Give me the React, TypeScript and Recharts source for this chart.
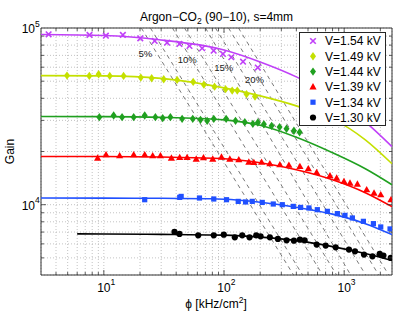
import React from 'react';
import {
  ComposedChart, Line, Scatter, XAxis, YAxis, CartesianGrid,
  ReferenceArea, ReferenceDot, Legend, Customized,
} from 'recharts';

const FONT = '"Liberation Sans", Arial, Helvetica, sans-serif';
const W = 409;
const H = 314;
const PLOT_LEFT = 41;
const PLOT_RIGHT = 392;
const PLOT_TOP = 28;
const PLOT_BOTTOM = 275;

// ---- axis ticks ----
const xTicks = [3, 4, 5, 6, 7, 8, 9, 10, 20, 30, 40, 50, 60, 70, 80, 90, 100, 200, 300, 400, 500, 600, 700, 800, 900, 1000, 2000];
const yTicks = [4000, 5000, 6000, 7000, 8000, 9000, 10000, 20000, 30000, 40000, 50000, 60000, 70000, 80000, 90000, 100000];
const xDomain = [3, 2500];
const yDomain = [4000, 100000];

// ---- measured points ----
const phi154 = [3.47, 7.6, 10.4, 14.4, 20.1, 26.5, 33.6, 42.6, 51.6, 65.8, 82, 98, 115, 144, 191];
const gain154 = [92100, 91300, 90500, 91300, 87450, 84460, 82600, 81200, 79100, 76800, 74400, 71300, 68300, 64500, 59700];

const phi149 = [4.94, 7.57, 9.05, 11.2, 14.6, 20.3, 25.0, 31.5, 40.7, 55.4, 68, 83.4, 103, 117, 129, 154, 181];
const gain149 = [53770, 53560, 54750, 53560, 53560, 52390, 51980, 51310, 50840, 49540, 47800, 46560, 45060, 44240, 44240, 42220, 40920];

const phi144 = [9.17, 12.07, 14.18, 17.72, 21.88, 26.85, 30.9, 35.8, 44.8, 54.95, 63.7, 72.4, 82.2, 104.2, 124.7, 149, 173.8, 191.3, 214.7, 248.9, 290, 331.3, 381.7, 425.6];
const gain144 = [31300, 31960, 31300, 31300, 31960, 31300, 30890, 31300, 30610, 30610, 30210, 29820, 30610, 30610, 29820, 29320, 28680, 29170, 28500, 27940, 27480, 26880, 26190, 25680];

const phi139 = [8.88, 10.43, 13.54, 17.72, 21.88, 25.5, 29.6, 36.5, 42.8, 49.3, 58.7, 67.5, 80.6, 95.3, 111.8, 132.8, 161, 177.1, 205.4, 240.8, 291.7, 346.7, 428.2, 503.1, 590, 761.7, 866, 996, 1118, 1288, 1539, 1772, 2015, 2450];
const gain139 = [18360, 19170, 18920, 19170, 19170, 18920, 18920, 18360, 18500, 18500, 18130, 18440, 18130, 18600, 18130, 17960, 17430, 17340, 17390, 17050, 16830, 16720, 16460, 15970, 15220, 14580, 14150, 13540, 13260, 13090, 12150, 11640, 11390, 10670];

const phi134 = [21.88, 42.8, 44.0, 62.5, 82.2, 104.9, 131.3, 151.1, 171.8, 208.1, 257, 305.5, 377.3, 434, 508.9, 597.9, 724.4, 877.7, 1015, 1170, 1445, 1751, 2015, 2408];
const gain134 = [10670, 11000, 11140, 10910, 10770, 10670, 10440, 10360, 10440, 10300, 10090, 10000, 9780, 9650, 9580, 9370, 9170, 8900, 8700, 8410, 8050, 7810, 7480, 7290];

const phi130 = [38.7, 42.6, 61, 82.2, 99.6, 123, 141.8, 163.1, 185.5, 201.5, 240.8, 280.8, 331.7, 381.6, 428.2, 468.7, 590, 701.4, 849.8, 1096, 1230, 1462, 1718, 1976, 2122, 2441];
const gain130 = [7013, 6832, 6708, 6708, 6769, 6536, 6708, 6536, 6708, 6621, 6536, 6400, 6284, 6260, 6342, 6284, 5943, 5867, 5740, 5569, 5447, 5218, 5105, 5266, 5152, 5000];

// ---- fitted curves ----
const fitPhi = [3, 10, 30, 100, 200, 400, 800, 1500, 2500];
const fit154 = [91900, 90700, 85530, 75110, 64300, 52900, 40700, 29400, 21300];
const fit149 = [53770, 53560, 51850, 45810, 41280, 36250, 30610, 23290, 17050];
const fit144 = [31550, 31500, 31220, 30210, 28130, 24070, 19670, 15970, 12970];
const fit139 = [18750, 18730, 18600, 18200, 17270, 15770, 13840, 11690, 9743];
const fit134 = [10910, 10890, 10870, 10740, 10330, 9680, 8840, 7810, 6770];
const fitPhi130 = [6, 10, 30, 100, 200, 400, 800, 1500, 2500];
const fit130 = [6832, 6823, 6794, 6724, 6552, 6260, 5790, 5287, 4827];

// ---- dashed gain-drop guide lines (phi at top and bottom of plot) ----
const guideTopPhi = [20.5, 24.4, 37.2, 46.9, 70.1, 84.9, 109, 132];
const guideBottomPhi = [379, 451, 662, 866, 1133, 1510, 1939, 2349];
const guideLabels = ['5%', '10%', '15%', '20%'];
const guideLabelPhi = [22.2, 49.4, 99.6, 179.5];
const guideLabelGain = [71300, 65950, 59670, 50840];

// ---- series meta ----
const seriesNames = ['V=1.54 kV', 'V=1.49 kV', 'V=1.44 kV', 'V=1.39 kV', 'V=1.34 kV', 'V=1.30 kV'];
const seriesColors = ['#c040f8', '#c4e000', '#20a020', '#ff0000', '#2050ff', '#000000'];
const seriesMarkers = ['cross', 'diamond', 'diamond', 'triangle', 'square', 'circle'];

const zip = (xs: number[], ys: number[]) => xs.map((x, i) => ({ x, y: ys[i] }));

const pointSets = [
  zip(phi154, gain154), zip(phi149, gain149), zip(phi144, gain144),
  zip(phi139, gain139), zip(phi134, gain134), zip(phi130, gain130),
];
const fitSets = [
  zip(fitPhi, fit154), zip(fitPhi, fit149), zip(fitPhi, fit144),
  zip(fitPhi, fit139), zip(fitPhi, fit134), zip(fitPhi130, fit130),
];
const guideSets = guideTopPhi.map((t, i) => [
  { x: t, y: yDomain[1] },
  { x: guideBottomPhi[i], y: yDomain[0] },
]);

function drawMarker(kind: string, cx: number, cy: number, color: string) {
  switch (kind) {
    case 'cross':
      return (
        <g stroke={color} strokeWidth={1.6}>
          <line x1={cx - 2.8} y1={cy - 2.8} x2={cx + 2.8} y2={cy + 2.8} />
          <line x1={cx - 2.8} y1={cy + 2.8} x2={cx + 2.8} y2={cy - 2.8} />
        </g>
      );
    case 'diamond':
      return (
        <polygon
          points={`${cx},${cy - 4.2} ${cx + 3},${cy} ${cx},${cy + 4.2} ${cx - 3},${cy}`}
          fill={color}
        />
      );
    case 'triangle':
      return (
        <polygon
          points={`${cx},${cy - 3.8} ${cx + 3.6},${cy + 2.6} ${cx - 3.6},${cy + 2.6}`}
          fill={color}
        />
      );
    case 'square':
      return <rect x={cx - 2.6} y={cy - 2.6} width={5.2} height={5.2} fill={color} />;
    default:
      return <circle cx={cx} cy={cy} r={3.1} fill={color} />;
  }
}

const isDecade = (v: number) => Math.abs(Math.log10(v) - Math.round(Math.log10(v))) < 1e-9;

const XTick = (props: any) => {
  const { x, payload } = props;
  const v = payload.value as number;
  const major = isDecade(v);
  const len = major ? 5 : 3;
  const edge = Math.abs(x - PLOT_LEFT) < 1 || Math.abs(x - PLOT_RIGHT) < 1;
  return (
    <g>
      {!edge && (
        <g stroke="#333" strokeWidth={0.8}>
          <line x1={x} x2={x} y1={PLOT_BOTTOM} y2={PLOT_BOTTOM - len} />
          <line x1={x} x2={x} y1={PLOT_TOP} y2={PLOT_TOP + len} />
        </g>
      )}
      {major && (
        <text x={x - 6.7} y={291.5} fontSize={12} fontFamily={FONT} fill="#000">
          10
          <tspan dy={-6.5} fontSize={8.5}>{Math.round(Math.log10(v))}</tspan>
        </text>
      )}
    </g>
  );
};

const YTick = (props: any) => {
  const { y, payload } = props;
  const v = payload.value as number;
  const major = isDecade(v);
  const len = major ? 5 : 3;
  const edge = Math.abs(y - PLOT_TOP) < 1 || Math.abs(y - PLOT_BOTTOM) < 1;
  return (
    <g>
      {!edge && (
        <g stroke="#333" strokeWidth={0.8}>
          <line x1={PLOT_LEFT} x2={PLOT_LEFT + len} y1={y} y2={y} />
          <line x1={PLOT_RIGHT} x2={PLOT_RIGHT - len} y1={y} y2={y} />
        </g>
      )}
      {major && (
        <text x={21.7} y={y + 5} fontSize={12} fontFamily={FONT} fill="#000">
          10
          <tspan dy={-6.5} fontSize={8.5}>{Math.round(Math.log10(v))}</tspan>
        </text>
      )}
    </g>
  );
};

const Texts = () => (
  <g fontFamily={FONT} fill="#000">
    <text x={216.5} y={21} fontSize={12} textAnchor="middle">
      Argon−CO<tspan dy={3} fontSize={8.5}>2</tspan>
      <tspan dy={-3}> (90−10), s=4mm</tspan>
    </text>
    <text x={216} y={308} fontSize={12} textAnchor="middle">
      ϕ [kHz/cm<tspan dy={-5.5} fontSize={8.5}>2</tspan>
      <tspan dy={5.5}>]</tspan>
    </text>
    <text x={14} y={151.5} fontSize={12} textAnchor="middle" transform="rotate(-90 14 151.5)">
      Gain
    </text>
  </g>
);

const LegendBox = () => (
  <svg width={87} height={94} style={{ display: 'block' }}>
    <rect x={0.5} y={0.5} width={86} height={93} fill="#fff" stroke="#262626" strokeWidth={1} />
    {seriesNames.map((name, i) => {
      const cy = 9 + i * 15.3;
      return (
        <g key={name}>
          {drawMarker(seriesMarkers[i], 14, cy, seriesColors[i])}
          <text x={26} y={cy + 4.4} fontSize={12} fontFamily={FONT} fill="#000">
            {name}
          </text>
        </g>
      );
    })}
  </svg>
);

export default function App() {
  return (
    <div style={{ position: 'absolute', left: 0, top: 0, width: W, height: H, background: '#fff' }}>
      <ComposedChart
        width={W}
        height={H}
        margin={{ top: PLOT_TOP, right: W - PLOT_RIGHT, bottom: 0, left: 0 }}
      >
        <CartesianGrid stroke="#b4b4b4" strokeDasharray="1 2" strokeWidth={0.8} />
        <XAxis
          type="number"
          dataKey="x"
          scale="log"
          domain={xDomain}
          ticks={xTicks}
          interval={0}
          allowDataOverflow
          height={H - PLOT_BOTTOM}
          axisLine={false}
          tickLine={false}
          tickSize={0}
          tick={<XTick />}
        />
        <YAxis
          type="number"
          dataKey="y"
          scale="log"
          domain={yDomain}
          ticks={yTicks}
          interval={0}
          allowDataOverflow
          width={PLOT_LEFT}
          axisLine={false}
          tickLine={false}
          tickSize={0}
          tick={<YTick />}
        />
        {guideSets.map((d, i) => (
          <Line
            key={`g${i}`}
            data={d}
            dataKey="y"
            stroke="#555"
            strokeWidth={0.8}
            strokeDasharray="4 4"
            dot={false}
            activeDot={false}
            isAnimationActive={false}
            legendType="none"
          />
        ))}
        {guideLabels.map((l, i) => (
          <ReferenceDot
            key={l}
            x={guideLabelPhi[i]}
            y={guideLabelGain[i]}
            r={0}
            stroke="none"
            fill="none"
            label={{ value: l, position: 'center', fontSize: 9.5, fontFamily: FONT, fill: '#222' }}
          />
        ))}
        {pointSets.map((d, i) => (
          <Scatter
            key={`p${i}`}
            name={seriesNames[i]}
            data={d}
            dataKey="y"
            isAnimationActive={false}
            shape={(p: any) => drawMarker(seriesMarkers[i], p.cx, p.cy, seriesColors[i])}
          />
        ))}
        {fitSets.map((d, i) => (
          <Line
            key={`f${i}`}
            data={d}
            dataKey="y"
            type="monotone"
            stroke={seriesColors[i]}
            strokeWidth={1.6}
            dot={false}
            activeDot={false}
            isAnimationActive={false}
            legendType="none"
          />
        ))}
        <ReferenceArea
          x1={xDomain[0]}
          x2={xDomain[1]}
          y1={yDomain[0]}
          y2={yDomain[1]}
          fill="none"
          stroke="#333"
          strokeWidth={1}
          ifOverflow="visible"
        />
        <Legend
          layout="horizontal"
          verticalAlign="middle"
          align="center"
          content={() => <LegendBox />}
          wrapperStyle={{ position: 'absolute', left: 299, top: 32, width: 87, height: 94 }}
        />
        <Customized component={Texts} />
      </ComposedChart>
    </div>
  );
}
